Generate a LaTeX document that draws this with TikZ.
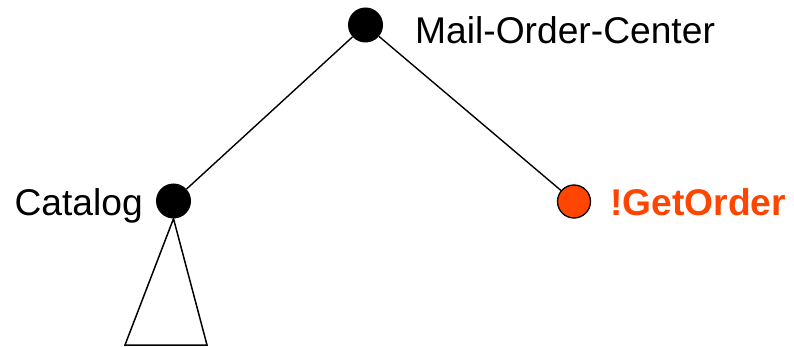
\documentclass[tikz,border=0pt]{standalone}
\usepackage{fontspec}
\setmainfont{Liberation Sans}
\definecolor{hotorange}{RGB}{255,69,0}
\begin{document}
\begin{tikzpicture}[x=1pt,y=-1pt,
  leaf/.style={circle,fill=black,minimum size=35pt,inner sep=0pt},
  hotleaf/.style={circle,fill=hotorange,draw=black,line width=1.3pt,minimum size=33pt,inner sep=0pt},
  lbl/.style={font=\fontsize{37.2}{40}\selectfont,inner sep=0pt,anchor=base west},
  edge/.style={line width=1.4pt}]
\useasboundingbox (0,0) rectangle (794,347);
\node[leaf] (top) at (365.5,25) {};
\node[leaf] (cat) at (173.5,201) {};
\node[hotleaf] (get) at (574,201.5) {};
\node[lbl] (toplbl) at (415,43.5) {Mail-Order-Center};
\node[lbl,anchor=base east] (catlbl) at (143,215) {Catalog};
\node[lbl,text=hotorange,font=\fontsize{37.2}{40}\selectfont\bfseries] (getlbl) at (610,215) {!GetOrder};
\draw[edge] (top) -- (cat);
\draw[edge] (top) -- (get);
\coordinate (bl) at (125,345);
\coordinate (br) at (207,345);
\draw[line width=1.5pt,line join=miter] (cat.south) -- (bl) -- (br) -- cycle;
\end{tikzpicture}
\end{document}
